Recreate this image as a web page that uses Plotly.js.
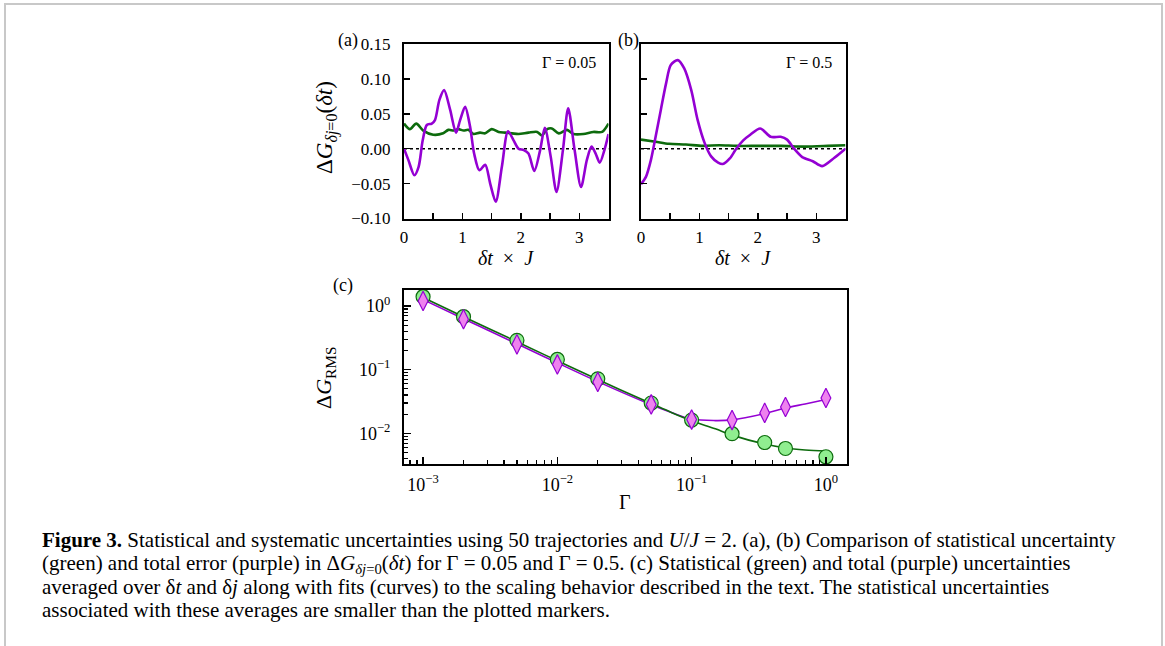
<!DOCTYPE html>
<html><head><meta charset="utf-8">
<script src="https://cdn.plot.ly/plotly-3.0.1.min.js"></script>
<style>html,body{margin:0;padding:0;background:#fff}#chart{width:1165px;height:646px}</style>
</head><body><div id="chart"></div><script>
// ---- Panel (a): Gamma = 0.05 ----
const timeTotalA = [0, 0.074, 0.177, 0.25, 0.32, 0.39, 0.475, 0.53, 0.606, 0.686, 0.789, 0.89, 0.96, 1.046, 1.13, 1.2, 1.29, 1.39, 1.475, 1.57, 1.675, 1.78, 1.875, 1.96, 2.05, 2.13, 2.23, 2.33, 2.41, 2.51, 2.61, 2.72, 2.81, 2.92, 3.03, 3.13, 3.21, 3.28, 3.35, 3.43, 3.5];
const totalErrA = [0, -0.016, -0.038, -0.026, 0.012, 0.034, 0.036, 0.041, 0.070, 0.084, 0.056, 0.023, 0.041, 0.060, 0.032, -0.007, -0.031, -0.023, -0.050, -0.076, -0.026, 0.025, 0.012, 0.0, -0.002, -0.007, -0.032, -0.002, 0.030, -0.011, -0.062, -0.002, 0.058, -0.002, -0.055, -0.016, 0.003, -0.007, -0.020, -0.002, 0.021];
const timeStatA = [0, 0.10, 0.21, 0.33, 0.50, 0.67, 0.76, 0.85, 0.93, 1.02, 1.10, 1.19, 1.30, 1.39, 1.50, 1.62, 1.73, 1.85, 1.96, 2.13, 2.28, 2.36, 2.45, 2.53, 2.65, 2.79, 2.90, 3.07, 3.24, 3.39, 3.5];
const statErrA = [0.036, 0.028, 0.036, 0.026, 0.020, 0.022, 0.027, 0.026, 0.028, 0.026, 0.027, 0.021, 0.023, 0.022, 0.028, 0.024, 0.023, 0.022, 0.021, 0.023, 0.024, 0.019, 0.028, 0.029, 0.022, 0.027, 0.021, 0.021, 0.024, 0.024, 0.036];

// ---- Panel (b): Gamma = 0.5 ----
const timeTotalB = [0, 0.086, 0.17, 0.25, 0.34, 0.43, 0.51, 0.63, 0.74, 0.86, 0.97, 1.09, 1.20, 1.32, 1.40, 1.52, 1.63, 1.75, 1.87, 2.04, 2.22, 2.39, 2.50, 2.62, 2.76, 2.94, 3.10, 3.31, 3.5];
const totalErrB = [-0.051, -0.040, -0.016, 0.017, 0.056, 0.094, 0.120, 0.127, 0.115, 0.084, 0.041, 0.008, -0.011, -0.020, -0.022, -0.014, 0.0, 0.012, 0.020, 0.029, 0.017, 0.017, 0.013, 0.0, -0.012, -0.018, -0.025, -0.013, 0.0];
const timeStatB = [0, 0.25, 0.48, 0.77, 1.06, 1.34, 1.63, 2.0, 2.4, 2.8, 3.2, 3.5];
const statErrB = [0.013, 0.010, 0.007, 0.006, 0.004, 0.005, 0.004, 0.004, 0.004, 0.003, 0.004, 0.005];

// ---- Panel (c): RMS vs Gamma ----
const gammaVals = [0.001, 0.002, 0.005, 0.01, 0.02, 0.05, 0.1, 0.2, 0.35, 0.5, 1.0];
const statRms = [1.40, 0.68, 0.289, 0.145, 0.072, 0.030, 0.0162, 0.0099, 0.0072, 0.0058, 0.0043];
const totalRms = [1.20, 0.62, 0.25, 0.121, 0.064, 0.0285, 0.0165, 0.0162, 0.021, 0.026, 0.036];
const fitGamma = [0.001, 0.002, 0.005, 0.01, 0.02, 0.05, 0.07, 0.1, 0.15, 0.2, 0.35, 0.5, 0.7, 1.0];
const fitStat = [1.36, 0.68, 0.275, 0.138, 0.070, 0.0295, 0.0215, 0.0158, 0.0118, 0.0094, 0.0068, 0.0059, 0.0055, 0.0053];
const fitTotal = [1.26, 0.63, 0.255, 0.128, 0.065, 0.0282, 0.0215, 0.0168, 0.0159, 0.0163, 0.0205, 0.025, 0.029, 0.034];

const logTickVals = [0.001, 0.01, 0.1, 1];
const logTickText = ['10<sup>−3</sup>', '10<sup>−2</sup>', '10<sup>−1</sup>', '10<sup>0</sup>'];
const yLogTickVals = [0.01, 0.1, 1];
const yLogTickText = ['10<sup>−2</sup>', '10<sup>−1</sup>', '10<sup>0</sup>'];

// minor log tick positions (2..9 in every decade)
const minorLog = [];
[0.0001, 0.001, 0.01, 0.1, 1].forEach(d => { for (let k = 2; k <= 9; k++) minorLog.push(d * k); });

const W = 1165, H = 646;
const px = v => v / W, py = v => 1 - v / H;
const PURPLE = '#9400d3', GREEN = '#0d6b0d';
const SERIF = 'Liberation Serif, DejaVu Serif, serif';

const lineTrace = (x, y, color, xa, ya) => ({x, y, xaxis: xa, yaxis: ya, mode: 'lines', type: 'scatter',
  line: {color, width: 2.6, shape: 'spline', smoothing: 0.8}, hoverinfo: 'skip', showlegend: false});

const traces = [
  lineTrace(timeStatA, statErrA, GREEN, 'x', 'y'),
  lineTrace(timeTotalA, totalErrA, PURPLE, 'x', 'y'),
  lineTrace(timeStatB, statErrB, GREEN, 'x2', 'y2'),
  lineTrace(timeTotalB, totalErrB, PURPLE, 'x2', 'y2'),
  {x: fitGamma, y: fitTotal, xaxis: 'x3', yaxis: 'y3', mode: 'lines', type: 'scatter',
   line: {color: PURPLE, width: 1.6, shape: 'spline'}, showlegend: false},
  {x: fitGamma, y: fitStat, xaxis: 'x3', yaxis: 'y3', mode: 'lines', type: 'scatter',
   line: {color: GREEN, width: 1.6, shape: 'spline'}, showlegend: false},
  {x: gammaVals, y: statRms, xaxis: 'x3', yaxis: 'y3', mode: 'markers', type: 'scatter',
   marker: {symbol: 'circle', size: 14, color: '#90ee90', line: {color: GREEN, width: 1.2}}, showlegend: false},
  {x: gammaVals, y: totalRms, xaxis: 'x3', yaxis: 'y3', mode: 'markers', type: 'scatter',
   marker: {symbol: 'diamond-tall', size: 14, color: '#ee82ee', line: {color: PURPLE, width: 1.2}}, showlegend: false},
  // empty trace so the minor-tick overlay axes are drawn
  {x: [], y: [], xaxis: 'x4', yaxis: 'y4', mode: 'markers', type: 'scatter', showlegend: false}
];

const tickFont = {family: SERIF, size: 17, color: '#000'};
const boxAxis = {showline: true, mirror: true, linecolor: '#000', linewidth: 2, showgrid: false, zeroline: false,
  ticks: 'inside', ticklen: 6, tickwidth: 1.5, tickcolor: '#000', tickfont: tickFont};
const minorOverlay = {type: 'log', showline: false, showgrid: false, zeroline: false, ticks: 'inside', ticklen: 4,
  tickwidth: 1.2, tickcolor: '#000', tickmode: 'array', tickvals: minorLog, showticklabels: false};

const domC_x = [px(404), px(847)], domC_y = [py(464), py(290)];
const rangeC_x = [-3.142, 0.157], rangeC_y = [-2.48, 0.251];

const layout = {
  width: W, height: H, margin: {l: 0, r: 0, t: 0, b: 0}, paper_bgcolor: '#fff', plot_bgcolor: '#fff',
  showlegend: false,
  xaxis: Object.assign({}, boxAxis, {domain: [px(404), px(608.5)], anchor: 'y', range: [-0.0001, 3.5], dtick: 1, tick0: 0,
    minor: {dtick: 0.5, ticks: 'inside', ticklen: 6, tickwidth: 1.5, tickcolor: '#000'}, ticklabelstandoff: 2}),
  yaxis: Object.assign({}, boxAxis, {domain: [py(218.5), py(44)], anchor: 'x', range: [-0.1001, 0.1501], dtick: 0.05, tick0: 0,
    tickformat: '.2f', ticklabelstandoff: 8}),
  xaxis2: Object.assign({}, boxAxis, {domain: [px(641), px(845.5)], anchor: 'y2', range: [-0.0001, 3.5], dtick: 1, tick0: 0,
    minor: {dtick: 0.5, ticks: 'inside', ticklen: 6, tickwidth: 1.5, tickcolor: '#000'}, ticklabelstandoff: 2}),
  yaxis2: Object.assign({}, boxAxis, {domain: [py(218.5), py(44)], anchor: 'x2', range: [-0.1001, 0.1501], dtick: 0.05, tick0: 0,
    showticklabels: false}),
  xaxis3: Object.assign({}, boxAxis, {domain: domC_x, anchor: 'y3', type: 'log', range: rangeC_x,
    tickmode: 'array', tickvals: logTickVals, ticktext: logTickText, ticklen: 7, ticklabelstandoff: 3,
    tickfont: {family: SERIF, size: 18, color: '#000'}}),
  yaxis3: Object.assign({}, boxAxis, {domain: domC_y, anchor: 'x3', type: 'log', range: rangeC_y,
    tickmode: 'array', tickvals: yLogTickVals, ticktext: yLogTickText, ticklen: 7, ticklabelstandoff: 8,
    tickfont: {family: SERIF, size: 18, color: '#000'}}),
  xaxis4: Object.assign({}, minorOverlay, {overlaying: 'x3', anchor: 'y3', side: 'bottom', range: rangeC_x}),
  yaxis4: Object.assign({}, minorOverlay, {overlaying: 'y3', anchor: 'x3', side: 'left', range: rangeC_y}),
  shapes: [
    {type: 'line', xref: 'x', yref: 'y', x0: 0, x1: 3.5, y0: 0, y1: 0, layer: 'below', line: {color: '#000', width: 1.6, dash: 'dot'}},
    {type: 'line', xref: 'x2', yref: 'y2', x0: 0, x1: 3.5, y0: 0, y1: 0, layer: 'below', line: {color: '#000', width: 1.6, dash: 'dot'}},
    {type: 'rect', xref: 'paper', yref: 'paper', x0: px(5), x1: px(1162), y0: -0.1, y1: py(4), line: {color: '#c8c8c8', width: 2}}
  ],
  annotations: []
};

const ann = (text, x, y, size, opts) => layout.annotations.push(Object.assign({text, x: px(x), y: py(y), xref: 'paper', yref: 'paper',
  showarrow: false, xanchor: 'center', yanchor: 'middle', font: {family: SERIF, size: size, color: '#000'}}, opts || {}));

ann('(a)', 348, 41, 18);
ann('(b)', 628, 41, 18);
ann('(c)', 343, 285, 18);
ann('Γ = 0.05', 598, 62, 16, {xanchor: 'right'});
ann('Γ = 0.5', 834, 62, 16, {xanchor: 'right'});
ann('Δ<i>G</i><sub><i>δj</i>=0</sub>(<i>δt</i>)', 326, 128, 23, {textangle: -90});
ann('<i>δt</i>  ×  <i>J</i>', 506, 258, 20);
ann('<i>δt</i>  ×  <i>J</i>', 743, 258, 20);
ann('Δ<i>G</i><sub>RMS</sub>', 325, 377, 22, {textangle: -90});
ann('Γ', 625, 502, 20);

const captionLines = [
  '<b>Figure 3.</b> Statistical and systematic uncertainties using 50 trajectories and <i>U</i>/<i>J</i> = 2. (a), (b) Comparison of statistical uncertainty',
  '(green) and total error (purple) in Δ<i>G</i><sub><i>δj</i>=0</sub>(<i>δt</i>) for Γ = 0.05 and Γ = 0.5. (c) Statistical (green) and total (purple) uncertainties',
  'averaged over δ<i>t</i> and δ<i>j</i> along with fits (curves) to the scaling behavior described in the text. The statistical uncertainties',
  'associated with these averages are smaller than the plotted markers.'
];
const captionY = [540, 564, 587, 610];
captionLines.forEach((t, i) => ann(t, 40, captionY[i], 21, {xanchor: 'left', align: 'left'}));

Plotly.newPlot('chart', traces, layout, {displayModeBar: false, staticPlot: true});
</script></body></html>
